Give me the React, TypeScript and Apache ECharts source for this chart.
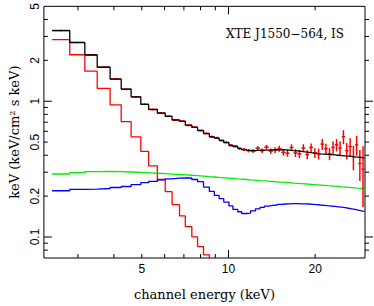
import React, { useEffect, useRef } from "react";
import * as echarts from "echarts";

// ---- axis ranges (keV, flux) ----
const X_MIN = 2.285;
const X_MAX = 29.8;
const Y_MIN = 0.07;
const Y_MAX = 5;

// ---- tick labels / tick positions ----
const xLabelValues = [5, 10, 20];
const xMinorTicks = [3, 4, 5, 6, 7, 8, 9, 20];
const xMajorTicks = [10];
const yLabelValues = [0.1, 0.2, 0.5, 1, 2, 5];
const yMinorTicks = [0.08, 0.09, 0.2, 0.3, 0.4, 0.5, 0.6, 0.7, 0.8, 0.9, 2, 3, 4];
const yMajorTicks = [0.1, 1];

// ---- channel bin edges (keV) ----
const binEdges = [
  2.44, 2.81, 3.17, 3.5, 3.88, 4.24, 4.59, 4.96, 5.28, 5.66, 6.03, 6.37, 6.76, 7.08,
  7.46, 7.81, 8.19, 8.58, 8.93, 9.28, 9.63, 10.04, 10.36, 10.77, 11.11, 11.56, 11.93,
  12.41, 12.86, 13.32, 13.79, 14.27, 14.76, 15.26, 15.77, 16.29, 16.82, 17.36, 17.92,
  18.49, 19.07, 19.66, 20.26, 20.87, 21.49, 22.12, 22.76, 23.41, 24.07, 24.74, 25.42,
  26.11, 26.81, 27.52, 28.24, 28.97, 29.7,
];

// ---- observed spectrum (keV^2 photons/cm^2/s/keV) ----
const dataFlux = [
  3.32, 2.7, 2.2, 1.78, 1.46, 1.225, 1.075, 0.95, 0.868, 0.82,
  0.775, 0.725, 0.715, 0.664, 0.645, 0.607, 0.58, 0.548, 0.538, 0.513,
  0.498, 0.474, 0.466, 0.447, 0.441, 0.432, 0.429,
  0.452, 0.432, 0.459, 0.429, 0.437, 0.447, 0.42, 0.414, 0.456, 0.416,
  0.41, 0.452, 0.405, 0.456, 0.416, 0.41, 0.483, 0.447, 0.41, 0.456,
  0.477, 0.452, 0.547, 0.432, 0.464, 0.39, 0.477, 0.348, 0.316,
];
const dataErr = [
  0.05, 0.04, 0.03, 0.025, 0.02, 0.018, 0.015, 0.013, 0.012, 0.011,
  0.011, 0.01, 0.01, 0.01, 0.01, 0.01, 0.01, 0.01, 0.01, 0.01,
  0.01, 0.01, 0.01, 0.011, 0.011, 0.012, 0.013,
  0.015, 0.016, 0.018, 0.02, 0.021, 0.022, 0.023, 0.024, 0.026, 0.027,
  0.028, 0.03, 0.031, 0.033, 0.035, 0.038,
  0.045, 0.04, 0.042, 0.048, 0.05, 0.055, 0.065, 0.06, 0.07, 0.08, 0.08, 0.09, 0.15,
];

// ---- model components ----
const modelTotal = [
  3.31, 2.71, 2.19, 1.78, 1.455, 1.228, 1.077, 0.947, 0.872, 0.817,
  0.773, 0.728, 0.711, 0.666, 0.641, 0.61, 0.578, 0.547, 0.535, 0.515,
  0.496, 0.472, 0.464, 0.449, 0.44, 0.434, 0.432,
  0.436, 0.436, 0.437, 0.438, 0.439, 0.439, 0.438, 0.436, 0.433, 0.431,
  0.427, 0.423, 0.42, 0.416, 0.413, 0.41, 0.408, 0.406, 0.404, 0.402,
  0.4, 0.398, 0.396, 0.394, 0.392, 0.389, 0.387, 0.385, 0.383,
];
const diskComp = [
  2.84, 2.2, 1.665, 1.245, 0.941, 0.708, 0.547, 0.427, 0.334, 0.265,
  0.216, 0.173, 0.143, 0.119, 0.1, 0.085, 0.0738, 0.062, 0.052,
];
const powerLawComp = [
  0.291, 0.2975, 0.3025, 0.3035, 0.303, 0.301, 0.299, 0.297, 0.2947, 0.2927,
  0.2907, 0.2886, 0.2872, 0.2848, 0.2829, 0.2806, 0.2782, 0.2765, 0.2746, 0.2729,
  0.2711, 0.2698, 0.268, 0.2667, 0.265, 0.2634, 0.2621,
  0.2604, 0.2592, 0.2575, 0.2563, 0.255, 0.2534, 0.2522, 0.251, 0.2494, 0.2482,
  0.247, 0.2458, 0.2446, 0.2434, 0.2422, 0.241, 0.2398, 0.2386, 0.2378, 0.2366,
  0.2355, 0.2343, 0.2332, 0.232, 0.2313, 0.2301, 0.229, 0.2282, 0.2276,
];
const reflComp = [
  0.2191, 0.2239, 0.2254, 0.2276, 0.2314, 0.2353, 0.243, 0.2512, 0.2566, 0.2638,
  0.2683, 0.2714, 0.2728, 0.2719, 0.2651, 0.2554, 0.2333, 0.2166, 0.2028, 0.1914,
  0.1807, 0.1693, 0.1598, 0.1534, 0.1489, 0.15, 0.1559,
  0.1611, 0.1652, 0.1687, 0.1707, 0.172, 0.1741, 0.175, 0.1756, 0.1758, 0.1758,
  0.1756, 0.1753, 0.175, 0.1741, 0.1731, 0.172, 0.1711, 0.17, 0.169, 0.1679,
  0.1668, 0.1657, 0.1644, 0.1628, 0.1612, 0.1594, 0.1576, 0.1559, 0.1543,
];

const lg = (v: number) => Math.log10(v);

function stepPoints(vals: number[]) {
  const pts = vals.map((v, i) => [lg(binEdges[i]), lg(v)]);
  pts.push([lg(binEdges[vals.length]), lg(vals[vals.length - 1])]);
  return pts;
}

const SERIF = "'DejaVu Serif', serif";
const SANS = "'Liberation Sans', Arial, sans-serif";

export default function App() {
  const ref = useRef<HTMLDivElement>(null);

  useEffect(() => {
    if (!ref.current) return;
    const chart = echarts.init(ref.current, null, { renderer: "svg" });

    const crossData = dataFlux.map((v, i) => [
      lg(binEdges[i]),
      lg(binEdges[i + 1]),
      lg(v),
      lg(v - dataErr[i]),
      lg(v + dataErr[i]),
    ]);

    const stepLine = (name: string, vals: number[], color: string) => ({
      name,
      type: "line",
      step: "end",
      data: stepPoints(vals),
      symbol: "none",
      clip: true,
      lineStyle: { color, width: 1.3 },
      z: 2,
    });

    const option: any = {
      animation: false,
      backgroundColor: "#fff",
      title: {
        text: "XTE J1550\u2212564, IS",
        left: 226,
        top: 28,
        padding: 0,
        textStyle: { fontFamily: SERIF, fontSize: 12, fontWeight: "normal", color: "#000" },
      },
      grid: {
        left: 37,
        top: 3,
        width: 328,
        height: 258,
        show: true,
        borderColor: "#000",
        borderWidth: 1,
        backgroundColor: "transparent",
      },
      xAxis: {
        type: "value",
        min: lg(X_MIN),
        max: lg(X_MAX),
        axisLine: { show: false },
        axisTick: { show: false },
        splitLine: { show: false },
        axisLabel: {
          customValues: xLabelValues.map(lg),
          formatter: (v: number) => String(Math.round(Math.pow(10, v))),
          fontFamily: SANS,
          fontSize: 12,
          color: "#000",
          margin: 5,
        },
        name: "channel energy (keV)",
        nameLocation: "middle",
        nameGap: 30,
        nameTextStyle: { fontFamily: SERIF, fontSize: 13, color: "#000" },
      },
      yAxis: {
        type: "value",
        min: lg(Y_MIN),
        max: lg(Y_MAX),
        axisLine: { show: false },
        axisTick: { show: false },
        splitLine: { show: false },
        axisLabel: {
          customValues: yLabelValues.map(lg),
          formatter: (v: number) => String(parseFloat(Math.pow(10, v).toPrecision(2))),
          rotate: 90,
          fontFamily: SANS,
          fontSize: 12,
          color: "#000",
          margin: 3,
        },
        name: "keV (keV/cm\u00b2 s keV)",
        nameLocation: "middle",
        nameRotate: 90,
        nameGap: 19,
        nameTextStyle: { fontFamily: SERIF, fontSize: 13, color: "#000" },
      },
      series: [
        stepLine("disk", diskComp, "#ff0000"),
        stepLine("powerlaw", powerLawComp, "#00ee00"),
        stepLine("reflection", reflComp, "#0000ff"),
        {
          name: "data",
          type: "custom",
          data: crossData,
          encode: { x: [0, 1], y: [2, 3, 4] },
          z: 3,
          renderItem: (params: any, api: any) => {
            const x0 = api.value(0);
            const x1 = api.value(1);
            const y = api.value(2);
            const ylo = api.value(3);
            const yhi = api.value(4);
            const xc = (x0 + x1) / 2;
            const pL = api.coord([x0, y]);
            const pR = api.coord([x1, y]);
            const pB = api.coord([xc, ylo]);
            const pT = api.coord([xc, yhi]);
            const st = { stroke: "#ff0000", lineWidth: 1.5 };
            return {
              type: "group",
              children: [
                { type: "line", shape: { x1: pL[0], y1: pL[1], x2: pR[0], y2: pR[1] }, style: st },
                { type: "line", shape: { x1: pB[0], y1: pB[1], x2: pT[0], y2: pT[1] }, style: st },
              ],
            };
          },
        },
        { ...stepLine("model", modelTotal, "#000000"), z: 4 },
        {
          name: "ticks",
          type: "custom",
          data: [[lg(10), lg(1)]],
          silent: true,
          z: 5,
          renderItem: (params: any, api: any) => {
            const cs = params.coordSys;
            const st = { stroke: "#000", lineWidth: 1 };
            const children: any[] = [];
            const xt = (v: number, len: number) => {
              const px = api.coord([lg(v), lg(1)])[0];
              children.push({ type: "line", shape: { x1: px, y1: cs.y + cs.height, x2: px, y2: cs.y + cs.height - len }, style: st });
              children.push({ type: "line", shape: { x1: px, y1: cs.y, x2: px, y2: cs.y + len }, style: st });
            };
            const yt = (v: number, len: number) => {
              const py = api.coord([lg(10), lg(v)])[1];
              children.push({ type: "line", shape: { x1: cs.x, y1: py, x2: cs.x + len, y2: py }, style: st });
              children.push({ type: "line", shape: { x1: cs.x + cs.width, y1: py, x2: cs.x + cs.width + len, y2: py }, style: st });
            };
            xMinorTicks.forEach((v) => xt(v, 4));
            xMajorTicks.forEach((v) => xt(v, 8));
            yMinorTicks.forEach((v) => yt(v, 4));
            yMajorTicks.forEach((v) => yt(v, 8));
            return { type: "group", children };
          },
        },
      ],
    };

    chart.setOption(option);
    return () => chart.dispose();
  }, []);

  return (
    <div
      ref={ref}
      style={{ position: "fixed", left: 0, top: 0, width: 374, height: 306 }}
    />
  );
}
